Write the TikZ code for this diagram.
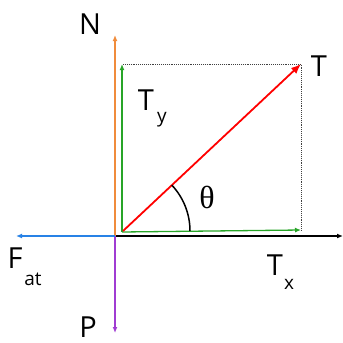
\documentclass[tikz,border=0pt]{standalone}
\usepackage{fontspec}
\setmainfont{Open Sans}
\newfontfamily\grfont{Liberation Serif}
\usetikzlibrary{arrows.meta}
\definecolor{cN}{RGB}{240,140,60}
\definecolor{cT}{RGB}{40,165,40}
\definecolor{cF}{RGB}{40,130,230}
\definecolor{cP}{RGB}{160,60,210}
\tikzset{
  vec/.style={line width=1.3pt,-{Latex[length=6pt,width=5pt]}},
  lab/.style={inner sep=0pt,font=\fontsize{29}{34}\selectfont},
  sub/.style={inner sep=0pt,font=\fontsize{19}{22}\selectfont},
  guide/.style={densely dotted,line width=0.9pt,black!75}
}
\begin{document}
\begin{tikzpicture}[x=1pt,y=-1pt]
\useasboundingbox (0,0) rectangle (343,343);
\coordinate (O) at (115,236);
\coordinate (Ntip) at (115,35);
\coordinate (Ptip) at (115,333);
\coordinate (Ftip) at (16,236);
\coordinate (Xtip) at (343,236);
\coordinate (A) at (123,231);
\coordinate (Ty) at (122,64);
\coordinate (Tx) at (301,230);
\coordinate (T) at (301,64);
\coordinate (Ay) at (123,64);
\coordinate (Ax) at (122,232);
% axes and forces
\draw[vec,black] (O) -- (Xtip);
\draw[vec,cN] (O) -- (Ntip);
\draw[vec,cP] (O) -- (Ptip);
\draw[vec,cF] (O) -- (Ftip);
% guides
\draw[guide] (Ay) -- (T) -- (Tx);
% components
\draw[vec,cT] (Ax) -- (Ty);
\draw[vec,cT] (Ax) -- (Tx);
\draw[line width=1.8pt,red,-{Latex[length=10pt,width=8pt]}] (A) -- (T);
% angle
\draw[line width=1.5pt] ([xshift=67pt]A) arc[start angle=0,end angle=43.3,radius=67pt];
\node[inner sep=0pt,font=\grfont\fontsize{32}{36}\selectfont] (theta) at (207,197) {θ};
% labels
\node[lab] (lN) at (90,24) {N};
\node[lab] (lT) at (319,66) {T};
\node[lab] (lTy) at (146,100) {T};
\node[sub] (sTy) at (162,120) {y};
\node[lab] (lF) at (15,258) {F};
\node[sub] (sF) at (33,279) {at};
\node[lab] (lP) at (88,327) {P};
\node[lab] (lTx) at (275,265) {T};
\node[sub] (sTx) at (289,284) {x};
\end{tikzpicture}
\end{document}
